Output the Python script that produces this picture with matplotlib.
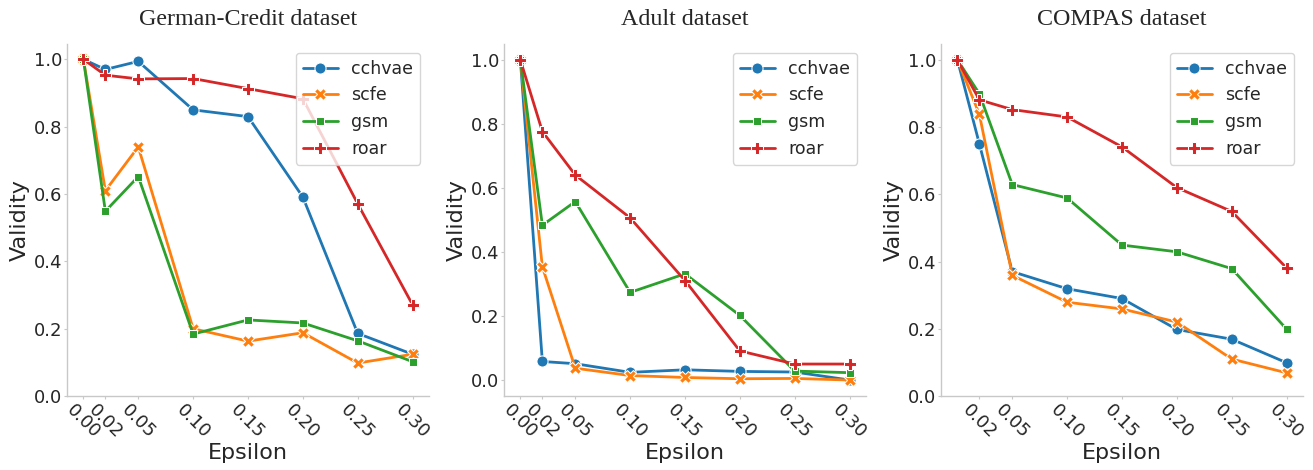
import matplotlib
matplotlib.use("Agg")
import matplotlib.pyplot as plt
import pandas as pd
import seaborn as sns

eps = [0.00, 0.02, 0.05, 0.10, 0.15, 0.20, 0.25, 0.30]
methods = ["cchvae", "scfe", "gsm", "roar"]

german_cchvae = [1.0, 0.970, 0.994, 0.850, 0.830, 0.591, 0.186, 0.124]
german_scfe = [1.0, 0.610, 0.740, 0.200, 0.163, 0.188, 0.098, 0.124]
german_gsm = [1.0, 0.549, 0.652, 0.184, 0.226, 0.217, 0.164, 0.102]
german_roar = [1.0, 0.953, 0.942, 0.943, 0.913, 0.883, 0.571, 0.271]

adult_cchvae = [1.0, 0.058, 0.051, 0.024, 0.032, 0.027, 0.025, 0.0]
adult_scfe = [1.0, 0.354, 0.037, 0.014, 0.008, 0.004, 0.005, 0.0]
adult_gsm = [1.0, 0.484, 0.558, 0.274, 0.332, 0.202, 0.028, 0.023]
adult_roar = [1.0, 0.777, 0.641, 0.507, 0.311, 0.091, 0.050, 0.050]

compas_cchvae = [1.0, 0.750, 0.370, 0.319, 0.290, 0.198, 0.169, 0.099]
compas_scfe = [1.0, 0.838, 0.359, 0.279, 0.259, 0.220, 0.110, 0.069]
compas_gsm = [1.0, 0.899, 0.629, 0.589, 0.449, 0.429, 0.379, 0.199]
compas_roar = [1.0, 0.881, 0.852, 0.830, 0.741, 0.620, 0.549, 0.381]

panels = [
    ("German-Credit dataset", [german_cchvae, german_scfe, german_gsm, german_roar], eps, 0),
    ("Adult dataset", [adult_cchvae, adult_scfe, adult_gsm, adult_roar], eps, None),
    ("COMPAS dataset", [compas_cchvae, compas_scfe, compas_gsm, compas_roar], eps[1:], 0),
]

sns.set_style("white")
plt.rcParams["font.family"] = ["DejaVu Sans"]
plt.rcParams["axes.edgecolor"] = "#c8c8c8"
plt.rcParams["axes.linewidth"] = 1.0

fig, axes = plt.subplots(1, 3, figsize=(13.13, 4.70))
fig.subplots_adjust(left=0.051, right=0.9924, bottom=0.1574, top=0.906, wspace=0.207)

for ax, (title, series, ticks, ybot) in zip(axes, panels):
    rows = []
    for m, vals in zip(methods, series):
        for e, v in zip(eps, vals):
            rows.append({"Epsilon": e, "Validity": v, "method": m})
    df = pd.DataFrame(rows)
    sns.lineplot(data=df, x="Epsilon", y="Validity", hue="method", style="method",
                 markers=True, dashes=False, linewidth=2, markersize=8, ax=ax)
    if ybot is not None:
        ax.set_ylim(bottom=ybot)
    ax.set_xticks(ticks)
    ax.set_xticklabels(["%.2f" % t for t in ticks], rotation=-45)
    ax.tick_params(labelsize=13, bottom=True, left=True, length=2, width=0.8,
                   color="#c8c8c8", pad=1.5)
    ax.set_xlabel("Epsilon", fontsize=16, labelpad=1)
    ax.set_ylabel("Validity", fontsize=16, labelpad=3)
    ax.set_title(title, fontsize=17.3, family="Liberation Serif", pad=14)
    ax.legend(loc="upper right", fontsize=12.5)
    sns.despine(ax=ax)

fig.savefig("out.png", dpi=100)
